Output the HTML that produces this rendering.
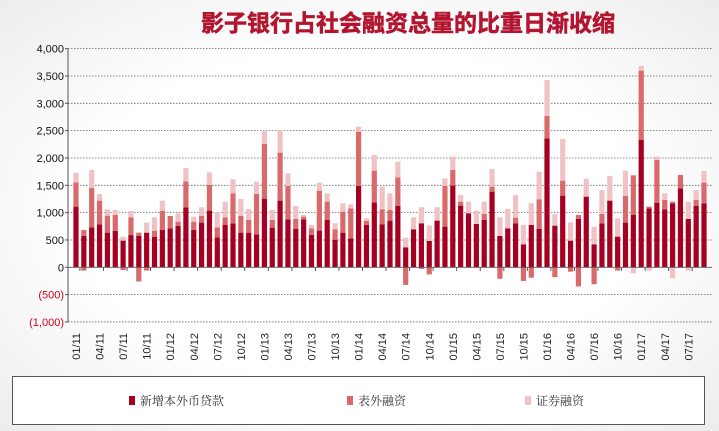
<!DOCTYPE html>
<html><head><meta charset="utf-8"><style>
html,body{margin:0;padding:0}
body{width:719px;height:431px;overflow:hidden;background:radial-gradient(ellipse at center,#ffffff 55%,#ececec 100%);font-family:"Liberation Sans","Noto Sans CJK SC",sans-serif}
</style></head><body>
<svg id="s" width="719" height="431" xmlns="http://www.w3.org/2000/svg" style="position:absolute;left:0;top:0">
<text x="408" y="31" text-anchor="middle" font-family="'Noto Sans CJK SC','WenQuanYi Zen Hei',sans-serif" font-weight="bold" font-size="23" fill="#b3142f" stroke="#b3142f" stroke-width="0.6">影子银行占社会融资总量的比重日渐收缩</text>
<rect x="12.5" y="376.5" width="692" height="48" fill="#fff" stroke="#555" stroke-width="1"/>
<rect x="129" y="396" width="6" height="9" fill="#a50021"/>
<text x="140" y="405" font-size="12" fill="#333" font-family="'Noto Serif CJK SC','Noto Sans CJK SC',serif">新增本外币贷款</text>
<rect x="347" y="396" width="6" height="9" fill="#d96a6c"/>
<text x="358" y="405" font-size="12" fill="#333" font-family="'Noto Serif CJK SC','Noto Sans CJK SC',serif">表外融资</text>
<rect x="525" y="396" width="6" height="9" fill="#f0c2c5"/>
<text x="536" y="405" font-size="12" fill="#333" font-family="'Noto Serif CJK SC','Noto Sans CJK SC',serif">证券融资</text>
<g id="g"></g>
</svg>
<script>
var g=document.getElementById('g'),h='';
function Y(v){return 267.3-v*0.05466;}
var labs=['(1,000)','(500)','0','500','1,000','1,500','2,000','2,500','3,000','3,500','4,000'];
for(var i=0;i<=10;i++){var v=-1000+i*500,y=Y(v);
 if(v!==0)h+='<line x1="68" x2="712" y1="'+y+'" y2="'+y+'" stroke="#666" stroke-width="0.8" stroke-dasharray="1.5,1.5"/>';
 h+='<text x="64" y="'+(y+4)+'" text-anchor="end" font-size="11" fill="'+(v<0?'#d0021b':'#111')+'">'+labs[i]+'</text>';
 h+='<line x1="65" x2="68" y1="'+y+'" y2="'+y+'" stroke="#555"/>';}
h+='<line x1="68" x2="68" y1="'+Y(4000)+'" y2="'+Y(-1000)+'" stroke="#555"/>';
var d=[[1110,1555,1730,0],[573,683,683,-60],[732,1450,1780,0],[787,1220,1340,0],[634,945,1060,0],[665,957,1050,0],[488,488,560,-50],[590,915,1030,0],[573,634,634,-260],[634,634,817,-60],[560,670,915,0],[683,1030,1220,0],[713,939,939,0],[756,835,988,0],[1098,1573,1817,0],[683,835,927,0],[817,939,1098,0],[1037,1506,1738,0],[549,732,1012,0],[774,915,1201,0],[805,1354,1610,0],[634,939,1250,0],[634,866,1067,0],[604,1341,1567,0],[1256,2256,2500,0],[726,866,1049,0],[1220,2098,2512,0],[878,1488,1720,0],[701,884,1122,0],[878,927,957,0],[591,713,774,0],[671,1402,1549,0],[866,1201,1354,0],[500,695,805,0],[634,1018,1171,0],[530,1080,1152,0],[1488,2482,2573,0],[774,848,896,0],[1189,1768,2055,0],[787,1061,1476,0],[854,1049,1354,0],[1122,1646,1933,0],[366,366,543,-323],[695,695,915,0],[805,805,1098,-30],[482,482,762,-130],[854,854,1098,0],[744,1488,1628,0],[1494,1780,2024,0],[1128,1201,1323,0],[988,988,1201,0],[793,793,1037,0],[866,976,1201,0],[1384,1476,1799,0],[573,573,915,-210],[713,713,1067,0],[805,909,1323,0],[421,421,774,-250],[774,774,1171,-190],[701,1244,1750,0],[2360,2768,3427,0],[762,762,970,-180],[1311,1585,2348,0],[488,488,823,-80],[884,957,957,-350],[1293,1293,1616,0],[421,421,744,-310],[805,976,1415,0],[1220,1220,1671,0],[561,561,896,-60],[817,1305,1768,0],[957,1683,1683,-110],[2329,3598,3683,0],[1079,1110,1110,-60],[1183,1963,2024,0],[1061,1232,1354,0],[1171,1201,1201,-200],[1445,1689,1689,0],[884,884,1201,-60],[1122,1232,1415,0],[1171,1549,1762,0]];
var qs=['01','04','07','10'];
for(var i=0;i<d.length;i++){var x=76+i*7.85,b=d[i],w=5.2,l=x-w/2;
 h+='<rect x="'+l+'" y="'+Y(b[0])+'" width="'+w+'" height="'+(Y(0)-Y(b[0]))+'" fill="#a50021"/>';
 if(b[1]>b[0])h+='<rect x="'+l+'" y="'+Y(b[1])+'" width="'+w+'" height="'+(Y(b[0])-Y(b[1]))+'" fill="#d96a6c"/>';
 if(b[2]>b[1])h+='<rect x="'+l+'" y="'+Y(b[2])+'" width="'+w+'" height="'+(Y(b[1])-Y(b[2]))+'" fill="#f0c2c5"/>';
 if(b[3]<0)h+='<rect x="'+l+'" y="'+Y(0)+'" width="'+w+'" height="'+(Y(b[3])-Y(0))+'" fill="'+(i>=71?'#f0c2c5':'#d96a6c')+'"/>';
 if(i%3==0){var yr=11+Math.floor(i/12),t=qs[(i%12)/3]+'/'+yr;
  h+='<line x1="'+(x+3.9)+'" x2="'+(x+3.9)+'" y1="267.3" y2="271" stroke="#555"/>';
  h+='<text transform="translate('+(x+4)+',333) rotate(-90)" text-anchor="end" font-size="11" fill="#222">'+t+'</text>';}
}
h+='<line x1="68" x2="712" y1="267.3" y2="267.3" stroke="#555" stroke-width="0.8"/>';
g.innerHTML=h;
</script>
</body></html>
